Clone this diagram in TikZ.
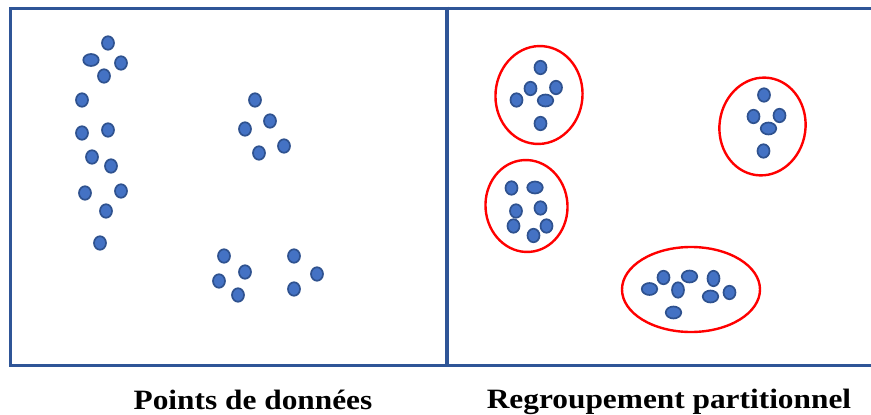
\documentclass[tikz,border=0pt]{standalone}
\usepackage{fontspec}
\setmainfont{Liberation Serif}
\usepackage{tikz}
\usetikzlibrary{shapes.geometric}

\definecolor{frameblue}{HTML}{2F5597}
\definecolor{dotfill}{HTML}{4472C4}
\definecolor{dotline}{HTML}{2F528F}

\begin{document}
\begin{tikzpicture}
    [
    x=1pt, y=-1pt,
    point/.style={ellipse,draw=dotline,fill=dotfill,line width=1.7pt,inner sep=0pt,minimum width=12pt,minimum height=13.5pt},
    wide/.style={minimum width=15.5pt,minimum height=12pt},
    tall/.style={minimum width=12pt,minimum height=15.5pt},
    group/.style={ellipse,draw=red,line width=2.4pt,inner sep=0pt},
    caption/.style={anchor=base,inner sep=0pt,font=\fontsize{28}{32}\selectfont\bfseries},
    ]
    \useasboundingbox (0,0) rectangle (871,415);

    % frames
    \draw [frameblue, line width=3pt] (447,8) -- (10.5,8) -- (10.5,365) -- (447,365);
    \draw [frameblue, line width=3pt] (447,8) -- (871,8);
    \draw [frameblue, line width=3pt] (447,365) -- (871,365);
    \draw [frameblue, line width=4pt] (447,6.5) -- (447,366.5);

    % data points
    \node (p1) at (108,43) [point] {};
    \node (p2) at (91,60) [point, wide] {};
    \node (p3) at (121,63) [point] {};
    \node (p4) at (104,76) [point] {};
    \node (p5) at (82,100) [point] {};
    \node (p6) at (82,133) [point] {};
    \node (p7) at (108,130) [point] {};
    \node (p8) at (92,157) [point] {};
    \node (p9) at (111,166) [point] {};
    \node (p10) at (85,193) [point] {};
    \node (p11) at (121,191) [point] {};
    \node (p12) at (106,211) [point] {};
    \node (p13) at (100,243) [point] {};
    \node (p14) at (255,100) [point] {};
    \node (p15) at (270,121) [point] {};
    \node (p16) at (245,129) [point] {};
    \node (p17) at (284,146) [point] {};
    \node (p18) at (259,153) [point] {};
    \node (p19) at (224,256) [point] {};
    \node (p20) at (245,272) [point] {};
    \node (p21) at (219,281) [point] {};
    \node (p22) at (238,295) [point] {};
    \node (p23) at (294,256) [point] {};
    \node (p24) at (317,274) [point] {};
    \node (p25) at (294,289) [point] {};

    % clusters
    \node (g1) at (539,95) [group, rotate=-5, minimum width=87pt, minimum height=98pt] {};
    \node (g2) at (762.5,126.5) [group, rotate=-8, minimum width=86pt, minimum height=98pt] {};
    \node (g3) at (526.5,206) [group, rotate=4, minimum width=82pt, minimum height=92pt] {};
    \node (g4) at (691,289.5) [group, minimum width=138pt, minimum height=85pt] {};

    \node (q1) at (540.5,67.5) [point] {};
    \node (q2) at (530.5,88.5) [point] {};
    \node (q3) at (556,87.5) [point] {};
    \node (q4) at (516.5,100) [point] {};
    \node (q5) at (545.5,100.5) [point, wide] {};
    \node (q6) at (540.5,123.5) [point] {};

    \node (q7) at (764,95) [point] {};
    \node (q8) at (753.5,116.5) [point] {};
    \node (q9) at (779.5,115.5) [point] {};
    \node (q10) at (768.5,128.5) [point, wide] {};
    \node (q11) at (763.5,151) [point] {};

    \node (q12) at (511.5,188) [point] {};
    \node (q13) at (535,187.5) [point, wide] {};
    \node (q14) at (516,211) [point] {};
    \node (q15) at (540.5,208) [point] {};
    \node (q16) at (513.5,226) [point] {};
    \node (q17) at (546.5,226) [point] {};
    \node (q18) at (533.5,235.5) [point] {};

    \node (q19) at (649.5,289) [point, wide] {};
    \node (q20) at (663.5,277.5) [point] {};
    \node (q21) at (689.5,276.5) [point, wide] {};
    \node (q22) at (678,290) [point, tall] {};
    \node (q23) at (713.5,278.5) [point, tall] {};
    \node (q24) at (729.5,292.5) [point] {};
    \node (q25) at (710.5,296.5) [point, wide] {};
    \node (q26) at (673.5,312.5) [point, wide] {};

    % captions
    \node (cap1) at (253,409) [caption] {\scalebox{1.12}[1]{Points de données}};
    \node (cap2) at (669,408) [caption] {\scalebox{1.12}[1]{Regroupement partitionnel}};
\end{tikzpicture}
\end{document}
